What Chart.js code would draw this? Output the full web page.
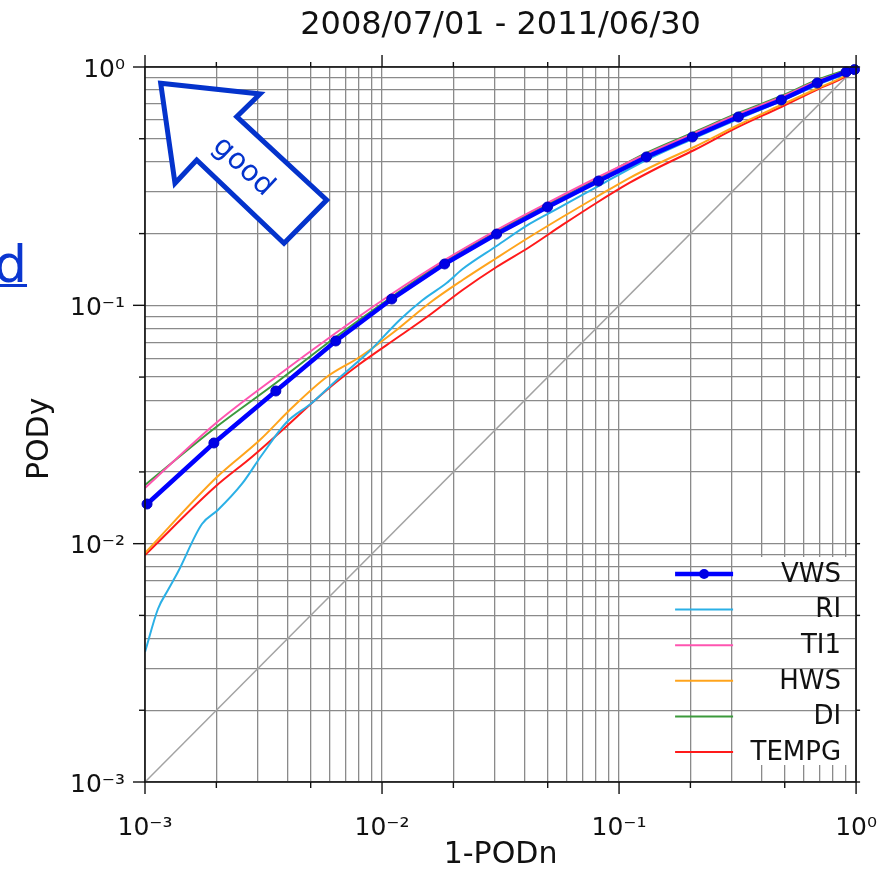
<!DOCTYPE html>
<html lang="en">
<head>
<meta charset="utf-8">
<title>PODy vs 1-PODn</title>
<script src="https://cdn.jsdelivr.net/npm/chart.js@4.4.1/dist/chart.umd.min.js"></script>
<style>
  html, body { margin: 0; padding: 0; background: #fff; }
  #wrap { position: relative; width: 889px; height: 874px; overflow: hidden; }
  #chartCanvas { position: absolute; left: 0; top: 0; }
  .cut-link {
    position: absolute; left: -6px; top: 238px;
    font: 52px/52px 'DejaVu Sans', sans-serif;
    color: #0a36d0; text-decoration: underline; text-decoration-thickness: 3px;
  }
</style>
</head>
<body>
<div id="wrap">
  <canvas id="chartCanvas" width="889" height="874"></canvas>
  <a class="cut-link" href="#">d</a>
</div>

<script>
  // axis ticks
  const decades = [-3, -2, -1, 0];
  const minorSteps = [2, 3, 4, 5, 6, 7, 8, 9];
  const markedSteps = [2, 5]; // minor values that get a short outer tick

  const titleText = '2008/07/01 - 2011/06/30';
  const xTitle = '1-PODn';
  const yTitle = 'PODy';

  // series (x = 1-PODn, y = PODy)
  const vwsX = [0.00102, 0.001953, 0.003565, 0.006381, 0.01099, 0.01837, 0.03043, 0.04991, 0.0819, 0.1304, 0.2039, 0.3185, 0.4836, 0.6856, 0.9082, 0.985];
  const vwsY = [0.01467, 0.02645, 0.04371, 0.07087, 0.1063, 0.1491, 0.1991, 0.2586, 0.3323, 0.4193, 0.5084, 0.6169, 0.7271, 0.8567, 0.953, 0.975];

  const riX = [0.001, 0.001134, 0.00125, 0.001377, 0.001739, 0.00203, 0.002563, 0.003112, 0.003966, 0.005055, 0.006442, 0.008871, 0.01187, 0.01484, 0.01873, 0.02187, 0.03042, 0.04191, 0.05771, 0.0818, 0.1304, 0.2037, 0.3183, 0.4831, 0.6851, 0.9077, 1];
  const riY = [0.003512, 0.00532, 0.006391, 0.007604, 0.01209, 0.01384, 0.0178, 0.02355, 0.0324, 0.03892, 0.04861, 0.06435, 0.08679, 0.1053, 0.1241, 0.1421, 0.1774, 0.2195, 0.2611, 0.3167, 0.4072, 0.4986, 0.6049, 0.7201, 0.8405, 0.9437, 1];

  const ti1X = [0.001, 0.001972, 0.003565, 0.00638, 0.01098, 0.01836, 0.03042, 0.04989, 0.0818, 0.1304, 0.2037, 0.3183, 0.4831, 0.6851, 0.9077, 1];
  const ti1Y = [0.01712, 0.03178, 0.05004, 0.07654, 0.1116, 0.1549, 0.207, 0.2688, 0.3455, 0.4315, 0.5235, 0.635, 0.7485, 0.8735, 0.9621, 1];

  const hwsX = [0.001, 0.002011, 0.003051, 0.004203, 0.005845, 0.008052, 0.01109, 0.01588, 0.02187, 0.03042, 0.04191, 0.05771, 0.08023, 0.1105, 0.1479, 0.2077, 0.3183, 0.4831, 0.6917, 0.9077, 1];
  const hwsY = [0.009138, 0.01904, 0.02722, 0.03746, 0.05004, 0.06072, 0.07654, 0.1023, 0.1277, 0.158, 0.1935, 0.2348, 0.2848, 0.3421, 0.3956, 0.4617, 0.5711, 0.6927, 0.8165, 0.9257, 1];

  const diX = [0.001, 0.001972, 0.003565, 0.00638, 0.01098, 0.01836, 0.03042, 0.04989, 0.0818, 0.1304, 0.2037, 0.3183, 0.4831, 0.6851, 0.9077, 1];
  const diY = [0.01762, 0.03057, 0.04722, 0.07363, 0.1084, 0.1535, 0.205, 0.2662, 0.3421, 0.4357, 0.5286, 0.6412, 0.7557, 0.8821, 0.9714, 1];

  const tempgX = [0.001, 0.001972, 0.002823, 0.003599, 0.005845, 0.008052, 0.01187, 0.01588, 0.02187, 0.03042, 0.04191, 0.05771, 0.08023, 0.1105, 0.1479, 0.2077, 0.3183, 0.4831, 0.6917, 0.9077, 1];
  const tempgY = [0.008961, 0.01729, 0.0231, 0.02857, 0.04413, 0.05673, 0.07435, 0.0911, 0.116, 0.1448, 0.1757, 0.2174, 0.2688, 0.3262, 0.3805, 0.4485, 0.5602, 0.6795, 0.8087, 0.9167, 1];

  const diagX = [0.001, 1];
  const diagY = [0.001, 1];

  const FONT = "'DejaVu Sans', 'Liberation Sans', sans-serif";
  const ARROW_BLUE = '#0433cc';
  const GRID = '#8a8a8a';

  // 1, 2..9 per decade, last decade only its 1
  const tickValues = [];
  decades.forEach((d, i) => {
    tickValues.push(Math.pow(10, d));
    if (i < decades.length - 1) {
      minorSteps.forEach(m => tickValues.push(m * Math.pow(10, d)));
    }
  });

  const SUP = {'-': '\u207B', '0': '\u2070', '1': '\u00B9', '2': '\u00B2', '3': '\u00B3',
               '4': '\u2074', '5': '\u2075', '6': '\u2076', '7': '\u2077', '8': '\u2078', '9': '\u2079'};

  function isDecade(v) {
    const e = Math.log10(v);
    return Math.abs(e - Math.round(e)) < 1e-9;
  }
  function stepOf(v) {
    return Math.round(v / Math.pow(10, Math.floor(Math.log10(v) + 1e-9)));
  }
  function powLabel(v) {
    if (!isDecade(v)) return '';
    const e = String(Math.round(Math.log10(v)));
    return '10' + e.split('').map(c => SUP[c]).join('');
  }
  function pts(xs, ys) {
    return xs.map((x, i) => ({x: x, y: ys[i]}));
  }

  // vertical grid lines are hidden behind the legend text column
  const legendGap = {
    id: 'legendGap',
    afterLayout(chart) {
      const sx = chart.scales.x;
      if (sx._gapPatched) return;
      const base = sx.drawGrid;
      sx.drawGrid = function(area) {
        base.call(this, area);
        const a = chart.chartArea;
        chart.ctx.save();
        chart.ctx.fillStyle = '#fff';
        chart.ctx.fillRect(a.right - 110, a.bottom - 225, 109, 208);
        chart.ctx.restore();
      };
      sx._gapPatched = true;
    }
  };

  // "good" arrow, frame and outer tick marks
  const frame = {
    id: 'frame',
    afterDatasetsDraw(chart) {
      const {ctx, chartArea: a, scales: {x, y}} = chart;
      ctx.save();

      // arrow
      const L = a.left, T = a.top;
      const arrow = [[15.7, 16.3], [115, 27], [91.7, 49.7], [181.7, 133], [139, 176.3], [51.7, 93], [30, 116.3]];
      ctx.beginPath();
      arrow.forEach((p, i) => i ? ctx.lineTo(L + p[0], T + p[1]) : ctx.moveTo(L + p[0], T + p[1]));
      ctx.closePath();
      ctx.fillStyle = '#fff';
      ctx.fill();
      ctx.lineWidth = 5;
      ctx.lineJoin = 'miter';
      ctx.strokeStyle = ARROW_BLUE;
      ctx.stroke();
      ctx.save();
      ctx.translate(L + 98, T + 100);
      ctx.rotate(43 * Math.PI / 180);
      ctx.fillStyle = ARROW_BLUE;
      ctx.font = '29px ' + FONT;
      ctx.textAlign = 'center';
      ctx.textBaseline = 'middle';
      ctx.fillText('good', 0, 0);
      ctx.restore();

      // frame
      ctx.strokeStyle = '#111';
      ctx.lineWidth = 1.6;
      ctx.strokeRect(a.left, a.top, a.right - a.left, a.bottom - a.top);

      // outer ticks
      ctx.lineWidth = 1.4;
      const seg = (x1, y1, x2, y2) => { ctx.beginPath(); ctx.moveTo(x1, y1); ctx.lineTo(x2, y2); ctx.stroke(); };
      tickValues.forEach(v => {
        const dec = isDecade(v);
        if (!dec && !markedSteps.includes(stepOf(v))) return;
        const len = dec ? 12 : 6;
        const px = x.getPixelForValue(v);
        const py = y.getPixelForValue(v);
        seg(px, a.bottom, px, a.bottom + len);
        seg(px, a.top, px, a.top - (dec ? 12 : 5));
        seg(a.left, py, a.left - len, py);
        seg(a.right, py, a.right + 4, py);
      });
      ctx.restore();
    },
    afterDraw(chart) {
      // legend: sample on the left, name right-aligned
      const {ctx, chartArea: a} = chart;
      ctx.save();
      ctx.font = '26px ' + FONT;
      ctx.textAlign = 'right';
      ctx.textBaseline = 'middle';
      const y0 = a.bottom - 208, step = 35.6;
      const x1 = a.right - 181, x2 = a.right - 123;
      chart.data.datasets.filter(d => d.label).forEach((d, i) => {
        const yy = y0 + i * step;
        ctx.strokeStyle = d.borderColor;
        ctx.lineWidth = d.borderWidth;
        ctx.beginPath();
        ctx.moveTo(x1, yy);
        ctx.lineTo(x2, yy);
        ctx.stroke();
        if (d.pointRadius) {
          ctx.fillStyle = d.pointBackgroundColor;
          ctx.beginPath();
          ctx.arc((x1 + x2) / 2, yy, d.pointRadius, 0, Math.PI * 2);
          ctx.fill();
        }
        ctx.fillStyle = '#111';
        ctx.fillText(d.label, a.right - 15, yy + 1);
      });
      ctx.restore();
    }
  };

  function line(label, xs, ys, color, width) {
    return {
      label: label,
      data: pts(xs, ys),
      borderColor: color,
      borderWidth: width,
      pointRadius: 0,
      cubicInterpolationMode: 'monotone',
      fill: false
    };
  }

  const vws = line('VWS', vwsX, vwsY, '#0000ff', 4.5);
  vws.cubicInterpolationMode = 'default';
  vws.tension = 0;
  vws.pointRadius = 5;
  vws.pointBackgroundColor = '#0000e6';
  vws.pointBorderColor = '#0000c0';
  vws.pointBorderWidth = 1;
  vws.clip = 8;

  const diag = line('', diagX, diagY, '#a3a3a3', 1.5);

  // first dataset ends up on top
  const datasets = [
    vws,
    line('RI', riX, riY, '#2bb0e6', 2),
    line('TI1', ti1X, ti1Y, '#ff55b0', 2),
    line('HWS', hwsX, hwsY, '#ffa41c', 2),
    line('DI', diX, diY, '#3c9a3c', 2),
    line('TEMPG', tempgX, tempgY, '#ff1a1a', 2),
    diag
  ];

  function axis(pos, titleText, titlePad) {
    return {
      type: 'logarithmic',
      position: pos,
      min: 0.001,
      max: 1,
      afterBuildTicks: s => { s.ticks = tickValues.map(v => ({value: v, major: isDecade(v)})); },
      grid: { color: GRID, lineWidth: 1.3, drawTicks: false, z: pos === 'bottom' ? -2 : -1 },
      border: { display: false },
      ticks: {
        autoSkip: false, maxRotation: 0, minRotation: 0,
        color: '#111',
        font: { family: FONT, size: 25 },
        callback: v => powLabel(v)
      },
      title: { display: true, text: titleText, color: '#111', font: { family: FONT, size: 30 }, padding: titlePad }
    };
  }

  const xAxis = axis('bottom', xTitle, {top: 0, bottom: 1});
  xAxis.afterFit = s => { s.height = 92; };
  // invisible tick marks push the labels down without widening the side padding
  xAxis.grid.drawTicks = true;
  xAxis.grid.tickLength = 19;
  xAxis.grid.tickColor = 'rgba(0,0,0,0)';
  xAxis.ticks.padding = 12;

  // trailing spaces nudge the rotated title a little lower, as in the original
  const yAxis = axis('left', yTitle + '   ', {top: 22, bottom: 0});
  yAxis.afterFit = s => { s.width = 145; };
  yAxis.ticks.padding = 20;
  yAxis.ticks.labelOffset = 3;

  new Chart(document.getElementById('chartCanvas'), {
    type: 'line',
    data: { datasets: datasets },
    options: {
      responsive: false,
      devicePixelRatio: 1,
      animation: false,
      layout: { autoPadding: false, padding: { left: 0, right: 32, top: 0, bottom: 0 } },
      scales: { x: xAxis, y: yAxis },
      plugins: {
        legend: { display: false },
        tooltip: { enabled: false },
        title: {
          display: true,
          text: titleText,
          fullSize: false,
          color: '#111',
          font: { family: FONT, size: 32, weight: 'normal' },
          padding: { top: 6, bottom: 22.6 }
        }
      }
    },
    plugins: [legendGap, frame]
  });
</script>
</body>
</html>
